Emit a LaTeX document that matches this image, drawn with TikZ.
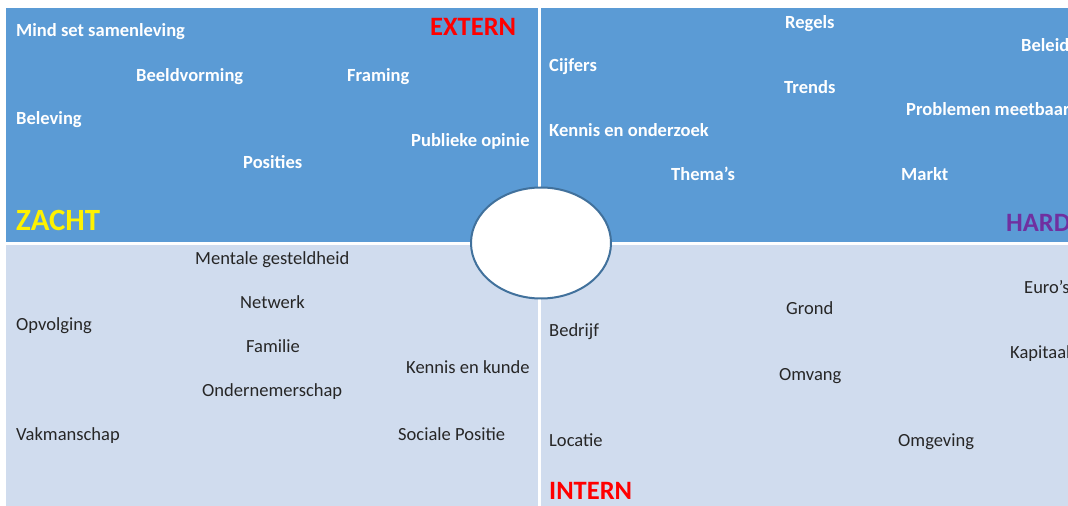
\documentclass[tikz,border=0pt]{standalone}
\usepackage{fontspec}
\setmainfont{Carlito}

\definecolor{vlakblauw}{HTML}{5B9BD5}
\definecolor{vlaklicht}{HTML}{D0DCEE}
\definecolor{randblauw}{HTML}{41719C}
\definecolor{tekstgrijs}{HTML}{262626}
\definecolor{hardpaars}{HTML}{7030A0}

\tikzset{
  woord/.style={anchor=base west, inner sep=0pt, font=\fontsize{18.6}{20}\selectfont},
  wit/.style={woord, text=white, font=\fontsize{18.6}{20}\selectfont\bfseries},
  grijs/.style={woord, text=tekstgrijs},
  kop/.style={anchor=base west, inner sep=0pt, font=\fontsize{26.6}{30}\selectfont\bfseries},
  as/.style={anchor=base west, inner sep=0pt, font=\fontsize{31}{36}\selectfont\bfseries},
}

\begin{document}
\begin{tikzpicture}[x=1bp, y=-1bp]
  \useasboundingbox (0,0) rectangle (1068,506);
  \clip (0,0) rectangle (1068,506);

  % Vier kwadranten
  \fill[vlakblauw] (6,8) rectangle (538,242);
  \fill[vlakblauw] (541,8) rectangle (1068,242);
  \fill[vlaklicht] (6,245) rectangle (538,506);
  \fill[vlaklicht] (541,245) rectangle (1068,506);

  % Extern / zacht
  \node[wit] (mindset) at (16,37) {Mind set samenleving};
  \node[wit] (beeld) at (136,82) {Beeldvorming};
  \node[wit] (framing) at (347,82) {Framing};
  \node[wit] (beleving) at (16,125) {Beleving};
  \node[wit] (opinie) at (411,147) {Publieke opinie};
  \node[wit] (posities) at (243,169) {Posities};

  % Extern / hard
  \node[wit] (regels) at (785,29) {Regels};
  \node[wit] (beleid) at (1021,52) {Beleid};
  \node[wit] (cijfers) at (549,72) {Cijfers};
  \node[wit] (trends) at (784,94) {Trends};
  \node[wit] (problemen) at (906,116) {Problemen meetbaar};
  \node[wit] (onderzoek) at (549,137) {Kennis en onderzoek};
  \node[wit] (themas) at (671,181) {Thema’s};
  \node[wit] (markt) at (901,181) {Markt};

  % Intern / zacht
  \node[grijs] (mentaal) at (195,265) {Mentale gesteldheid};
  \node[grijs] (netwerk) at (240,309) {Netwerk};
  \node[grijs] (opvolging) at (16,331) {Opvolging};
  \node[grijs] (familie) at (246,353) {Familie};
  \node[grijs] (kunde) at (406,374) {Kennis en kunde};
  \node[grijs] (ondernemer) at (202,396) {Ondernemerschap};
  \node[grijs] (vakman) at (16,440) {Vakmanschap};
  \node[grijs] (sociaal) at (398,440) {Sociale Positie};

  % Intern / hard
  \node[grijs] (euros) at (1024,294) {Euro’s};
  \node[grijs] (grond) at (786,315) {Grond};
  \node[grijs] (bedrijf) at (549,337) {Bedrijf};
  \node[grijs] (kapitaal) at (1010,359) {Kapitaal};
  \node[grijs] (omvang) at (779,381) {Omvang};
  \node[grijs] (locatie) at (549,446) {Locatie};
  \node[grijs] (omgeving) at (898,446) {Omgeving};

  % Assen
  \node[kop, text=red] (extern) at (430,36) {EXTERN};
  \node[kop, text=red] (intern) at (549,499) {INTERN};
  \node[as, text=yellow] (zacht) at (16,231) {ZACHT};
  \node[kop, text=hardpaars] (hard) at (1006,232) {HARD};

  % Midden
  \draw[randblauw, line width=2bp, fill=white] (541,243) ellipse [x radius=70bp, y radius=55.5bp];
\end{tikzpicture}
\end{document}
